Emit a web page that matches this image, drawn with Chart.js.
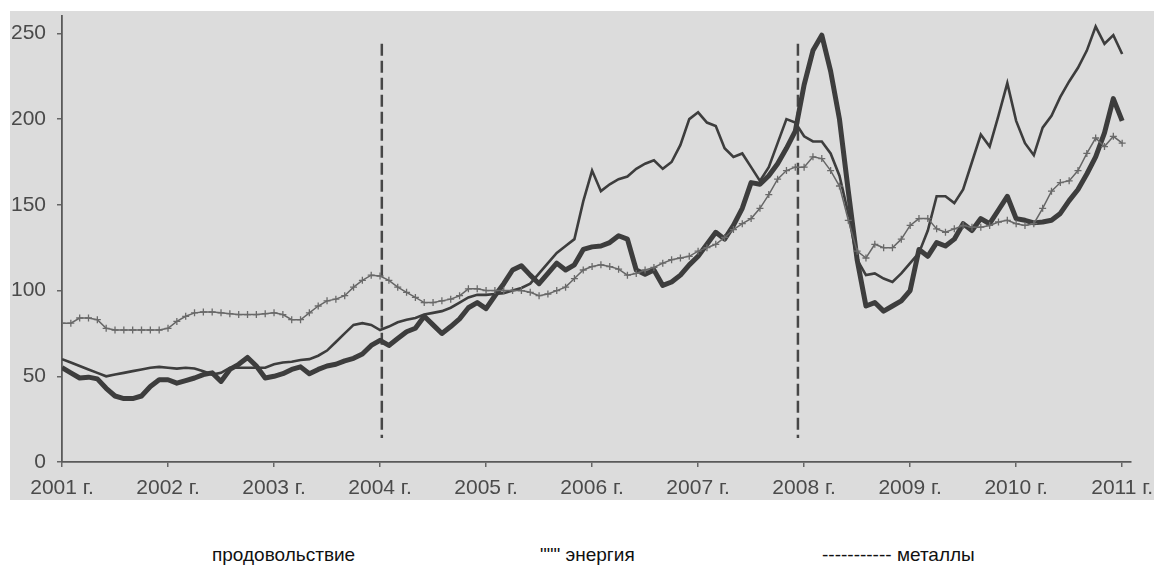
<!DOCTYPE html>
<html lang="ru">
<head>
<meta charset="utf-8">
<title>Цены на сырьевые товары</title>
<script src="https://cdn.jsdelivr.net/npm/chart.js@4/dist/chart.umd.min.js"></script>
<style>
  html, body { margin: 0; padding: 0; background: #fff; }
  body { width: 1154px; height: 568px; position: relative; overflow: hidden;
         font-family: "Liberation Sans", Arial, sans-serif; }
  #scan { position: absolute; left: 10px; top: 11px; width: 1144px; height: 489px; background: #dcdcdc; }
  .leg { position: absolute; top: 544px; font-size: 19px; color: #111; white-space: pre; }
</style>
</head>
<body>
<div id="scan"><canvas id="chart" width="1144" height="489"></canvas></div>
<span class="leg" style="left:212px">продовольствие</span>
<span class="leg" style="left:540px">""" энергия</span>
<span class="leg" style="left:822px">----------- металлы</span>

<script>
// ── Data (monthly, Jan 2001 – Jan 2011) ───────
const xLabels  = ['2001 г.','2002 г.','2003 г.','2004 г.','2005 г.','2006 г.','2007 г.','2008 г.','2009 г.','2010 г.','2011 г.'];
const yTicks   = [0, 50, 100, 150, 200, 250];
const markers  = [36.2, 83.3];   // dashed verticals (month index)

const food = [
  81,81,84,84,83,78,77,77,77,77, 77,77,78,82,85,87,87.5,87.5,87,86.5,
  86,86,86,86.5,87,86,83,83,87,91, 94,95,97,102,106,109,108.5,106,102,99,
  96,93,93,94,95,97,101,101,100,100, 100,100,100,99,97,98,100,102,107,112,
  114,115,114,112.5,109,110,112,113.5,116,118, 119,120,123,125,127,131,135.6,139,142,148,
  156,165,170,172,172,178,177,170,161,141, 123,119,127,125,125,130,138,142,142,136,
  134,136,138,137,137,138,140,141,139,138, 139,148,158,163,164,170,180,189,184,190,
  186
];
const energy = [
  55,52,49,49.5,48.5,43,38.5,37,37,38.5, 44,48,48,46,47.5,49,51,52,47,54,
  57,61,56,49,50,51.5,54,55.5,51.5,54, 56,57,59,60.5,63,68,71,68,72,76,
  78,85,80,75,79,83.5,90,93,89.5,97, 104,112,114.5,109,104,110,116,112,115,124,
  125.5,126,128,132,130,112,109.5,112,103,105, 109,115,120,127,134,130,138,148,163,162,
  167,174,183,193,220,240,249,228,200,158, 118,91,93,88,91,94,100,124,120,128,
  126,130,139,135,142,139,147,155,142,141, 139.5,140,141,145,152.5,159,168,178,192,212,
  199
];
const metals = [
  60,58,56,54,52,50,51,52,53,54, 55,55.5,55,54.5,55,54.5,53,51,52,55,
  55,55,55,55,57,58,58.5,59.5,60,62, 65,70,75,80,81,80,77,79,81.5,83,
  84,86,87,88,90,93,96,97.5,97.5,98, 98.5,100,101.5,104,110,116,122,126,130,152,
  170,158,162,165,166.5,171,174,176,171,175, 185,200,204,198,196,183,178,180,172,164,
  172,186,200,198,190,187,187,180,167,145, 118,109,110,107,105,110,116,122,135,155,
  155,151,159,175,191,184,202,221,199,186, 179,195,202,213,222,230,240,254,244,249,
  238
];

const toXY = arr => arr.map((v, i) => ({ x: i, y: v }));
const ink = '#3d3d3d';

// ── Dashed markers ────────────────────────────
const markerPlugin = {
  id: 'markers',
  beforeDatasetsDraw(chart) {
    const { ctx, scales: { x, y } } = chart;
    ctx.save();
    ctx.strokeStyle = '#474747';
    ctx.lineWidth = 2.5;
    ctx.setLineDash([12, 5]);
    markers.forEach(m => {
      const px = x.getPixelForValue(m);
      ctx.beginPath();
      ctx.moveTo(px, y.getPixelForValue(244));
      ctx.lineTo(px, y.getPixelForValue(14));
      ctx.stroke();
    });
    ctx.restore();
  }
};

const tickFont = { family: '"Liberation Sans", Arial, sans-serif', size: 21 };

new Chart(document.getElementById('chart'), {
  type: 'line',
  data: {
    datasets: [
      { label: 'продовольствие', data: toXY(food), borderColor: '#666', borderWidth: 1.5,
        pointStyle: 'cross', pointRadius: 3.5, pointBorderColor: '#6a6a6a', pointBorderWidth: 1.3,
        tension: 0 },
      { label: 'металлы', data: toXY(metals), borderColor: ink, borderWidth: 2.6,
        pointRadius: 0, tension: 0 },
      { label: 'энергия', data: toXY(energy), borderColor: ink, borderWidth: 5,
        pointRadius: 0, tension: 0, borderJoinStyle: 'round' }
    ]
  },
  options: {
    responsive: false,
    animation: false,
    layout: { padding: { top: 0, right: 23, bottom: 0, left: 0 } },
    plugins: { legend: { display: false }, tooltip: { enabled: false } },
    scales: {
      x: {
        type: 'linear', min: 0, max: 121,
        afterBuildTicks: s => { s.ticks = xLabels.map((_, i) => ({ value: i * 12 })); },
        afterFit: s => { s.height = 38; s.paddingLeft = 0; s.paddingRight = 0; },
        ticks: { color: '#4a4a4a', font: tickFont, padding: 9, maxRotation: 0,
                 callback: (v, i) => xLabels[i] },
        grid: { drawOnChartArea: false, drawTicks: true, tickLength: 5, color: '#666', lineWidth: 1.5 },
        border: { color: '#5a5a5a', width: 1.8 }
      },
      y: {
        min: 0, max: 260,
        afterBuildTicks: s => { s.ticks = yTicks.map(v => ({ value: v })); },
        afterFit: s => { s.width = 52; s.paddingTop = 0; s.paddingBottom = 0; },
        ticks: { color: '#4a4a4a', font: tickFont, padding: 11 },
        grid: { drawOnChartArea: false, drawTicks: true, tickLength: 5, color: '#666', lineWidth: 1.5 },
        border: { color: '#5a5a5a', width: 1.8 }
      }
    }
  },
  plugins: [markerPlugin]
});
</script>
</body>
</html>
